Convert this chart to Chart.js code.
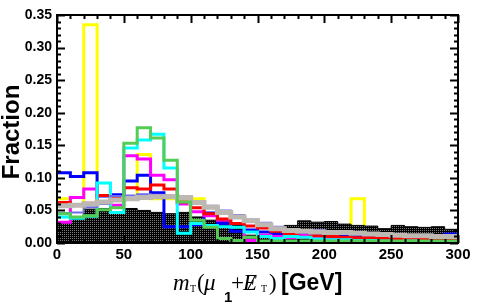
<!DOCTYPE html>
<html>
<head>
<meta charset="utf-8">
<script src="https://cdn.jsdelivr.net/npm/chart.js@4.4.0/dist/chart.umd.min.js"></script>
<style>
  html, body { margin: 0; padding: 0; background: #fff; }
  #wrap { width: 477px; height: 307px; position: relative; }
</style>
</head>
<body>
<div id="wrap"><canvas id="chart"></canvas></div>
<script>
// bin edges in GeV (30 bins of 10 GeV)
const binEdges = [0, 10, 20, 30, 40, 50, 60, 70, 80, 90, 100, 110, 120, 130, 140, 150,
  160, 170, 180, 190, 200, 210, 220, 230, 240, 250, 260, 270, 280, 290, 300];

const xTickLabels = [0, 50, 100, 150, 200, 250, 300];
const yTickLabels = ["0.00", "0.05", "0.10", "0.15", "0.20", "0.25", "0.30", "0.35"];

// fraction per bin
const blackFilled = [0.032, 0.037, 0.052, 0.053, 0.046, 0.053, 0.050, 0.047, 0.045, 0.047,
  0.040, 0.035, 0.035, 0.030, 0.012, 0.013, 0.022, 0.027, 0.034, 0.032,
  0.033, 0.029, 0.027, 0.026, 0.022, 0.027, 0.025, 0.024, 0.025, 0.021];
const yellowLine = [0.068, 0, 0.335, 0, 0, 0.068, 0.136, 0.068, 0.068, 0.068,
  0.068, 0, 0, 0, 0, 0, 0, 0, 0, 0,
  0, 0, 0.068, 0, 0, 0, 0, 0, 0, 0];
const blueLine = [0.108, 0.102, 0.108, 0.072, 0.074, 0.095, 0.104, 0.077, 0.025, 0.025,
  0.028, 0.046, 0.030, 0.018, 0.020, 0.017, 0.013, 0.015, 0.013, 0.012,
  0.010, 0.010, 0.010, 0.008, 0.008, 0.008, 0.007, 0.007, 0.008, 0.014];
const magentaLine = [0.032, 0.070, 0.083, 0.062, 0.058, 0.134, 0.129, 0.104, 0.097, 0.060,
  0.048, 0.042, 0.035, 0.030, 0.004, 0.012, 0.010, 0.008, 0.012, 0.008,
  0.008, 0.006, 0.005, 0.005, 0.006, 0.011, 0.005, 0.004, 0.004, 0.004];
const redLine = [0.062, 0.058, 0.061, 0.073, 0.071, 0.085, 0.083, 0.089, 0.083, 0.063,
  0.054, 0.045, 0.037, 0.030, 0.026, 0.023, 0.018, 0.014, 0.009, 0.011,
  0.010, 0.009, 0.008, 0.008, 0.007, 0.007, 0.006, 0.006, 0.006, 0.005];
const cyanLine = [0.040, 0.038, 0.041, 0.092, 0.047, 0.146, 0.158, 0.167, 0.115, 0.015,
  0.030, 0.027, 0.025, 0.024, 0.017, 0.010, 0.007, 0.010, 0.009, 0.006,
  0.005, 0.005, 0.004, 0.004, 0.003, 0.001, 0.003, 0.002, 0.002, 0.002];
const periwinkleLine = [0.046, 0.047, 0.055, 0.060, 0.072, 0.073, 0.075, 0.074, 0.073, 0.072,
  0.064, 0.057, 0.050, 0.043, 0.036, 0.031, 0.025, 0.021, 0.020, 0.020,
  0.018, 0.016, 0.015, 0.015, 0.013, 0.013, 0.012, 0.011, 0.011, 0.012];
const grayLine = [0.057, 0.058, 0.060, 0.063, 0.066, 0.068, 0.070, 0.071, 0.071, 0.070,
  0.062, 0.055, 0.047, 0.040, 0.034, 0.028, 0.022, 0.019, 0.018, 0.017,
  0.016, 0.016, 0.015, 0.014, 0.013, 0.012, 0.011, 0.011, 0.010, 0.010];
const greenLine = [0.045, 0.040, 0.042, 0.051, 0.054, 0.153, 0.177, 0.161, 0.127, 0.063,
  0.035, 0.024, 0.007, 0.004, 0.009, 0.003, 0.003, 0.003, 0.003, 0.003,
  0.003, 0.003, 0.003, 0.003, 0.003, 0.003, 0.003, 0.003, 0.003, 0.003];

// histogram outline: one point at each left edge, plus the last right edge
function toSteps(values) {
  const pts = values.map((v, i) => ({ x: binEdges[i], y: v }));
  pts.push({ x: binEdges[values.length], y: values[values.length - 1] });
  return pts;
}

function dotPattern() {
  const c = document.createElement("canvas");
  c.width = 2;
  c.height = 2;
  const g = c.getContext("2d");
  g.fillStyle = "#000";
  g.fillRect(0, 0, 2, 2);
  g.fillStyle = "#7a7a7a";
  g.fillRect(0, 0, 1, 1);
  return g.createPattern(c, "repeat");
}

function line(values, color, width) {
  return {
    data: toSteps(values),
    borderColor: color,
    borderWidth: width,
    stepped: "before",
    pointRadius: 0,
    fill: false,
  };
}

const framePlugin = {
  id: "frame",
  afterDatasetsDraw(chart) {
    const { ctx, chartArea: a, scales: { x, y } } = chart;
    ctx.save();
    ctx.strokeStyle = "#000";
    ctx.lineWidth = 2;
    ctx.strokeRect(a.left, a.top, a.right - a.left, a.bottom - a.top);
    ctx.beginPath();
    for (let v = 0; v <= 300; v += 10) {
      const px = Math.round(x.getPixelForValue(v)) + 0.5;
      const len = v % 50 === 0 ? 8 : 4;
      ctx.moveTo(px, a.bottom);
      ctx.lineTo(px, a.bottom - len);
      ctx.moveTo(px, a.top);
      ctx.lineTo(px, a.top + len);
    }
    for (let i = 0; i <= 35; i++) {
      const py = Math.round(y.getPixelForValue(i / 100)) + 0.5;
      const len = i % 5 === 0 ? 8 : 4;
      ctx.moveTo(a.left, py);
      ctx.lineTo(a.left + len, py);
      ctx.moveTo(a.right, py);
      ctx.lineTo(a.right - len, py);
    }
    ctx.stroke();
    ctx.restore();
  },
  afterDraw(chart) {
    const ctx = chart.ctx;
    ctx.save();
    ctx.fillStyle = "#000";
    ctx.textBaseline = "alphabetic";
    ctx.textAlign = "left";

    // y title
    ctx.save();
    ctx.translate(19, 132);
    ctx.rotate(-Math.PI / 2);
    ctx.textAlign = "center";
    ctx.font = "bold 24px 'Liberation Sans', Arial, sans-serif";
    ctx.fillText("Fraction", 0, 0);
    ctx.restore();

    // x title: m_T(mu_1 + E-slash_T) [GeV]
    const serif = "'Liberation Serif', 'Times New Roman', serif";
    const sans = "'Liberation Sans', Arial, sans-serif";
    ctx.font = "italic 23px " + serif;
    ctx.fillText("m", 173, 290);
    ctx.font = "10px " + serif;
    ctx.fillText("T", 190, 292);
    ctx.font = "23px " + serif;
    ctx.fillText("(", 197, 290);
    ctx.font = "italic 23px " + serif;
    ctx.fillText("\u03bc", 204, 290);
    ctx.font = "bold 15px " + sans;
    ctx.fillText("1", 224, 302);
    ctx.font = "23px " + serif;
    ctx.fillText("+", 231, 290);
    ctx.font = "italic 23px " + serif;
    ctx.fillText("E", 243, 290);
    ctx.fillText("/", 248, 290);
    ctx.font = "10px " + serif;
    ctx.fillText("T", 261, 292);
    ctx.font = "23px " + serif;
    ctx.fillText(")", 269, 290);
    ctx.font = "bold 23px " + sans;
    ctx.fillText("[GeV]", 281, 290);
    ctx.restore();
  },
};

const ctx = document.getElementById("chart").getContext("2d");

const blackSet = {
  data: toSteps(blackFilled),
  borderColor: "#000",
  borderWidth: 1,
  backgroundColor: dotPattern(),
  stepped: "before",
  pointRadius: 0,
  fill: "origin",
};

// first dataset is drawn on top
new Chart(ctx, {
  type: "line",
  data: {
    datasets: [
      line(greenLine, "#55cc55", 3),
      line(grayLine, "#bdb8b2", 5),
      line(periwinkleLine, "#6b6bf0", 2),
      line(cyanLine, "#00ffff", 3),
      line(redLine, "#ff0000", 3),
      line(magentaLine, "#ff00ff", 3),
      line(blueLine, "#0000ff", 3),
      blackSet,
      line(yellowLine, "#ffff00", 3),
    ],
  },
  options: {
    responsive: true,
    maintainAspectRatio: false,
    animation: false,
    layout: { padding: { top: 15, right: 19, left: 0, bottom: 0 } },
    plugins: { legend: { display: false }, tooltip: { enabled: false } },
    elements: { line: { tension: 0 } },
    scales: {
      x: {
        type: "linear",
        min: 0,
        max: 300,
        afterFit: (s) => { s.height = 64; },
        afterBuildTicks: (s) => { s.ticks = xTickLabels.map((v) => ({ value: v })); },
        ticks: {
          color: "#000",
          padding: 3,
          maxRotation: 0,
          font: { family: "'Liberation Sans', Arial, sans-serif", weight: "bold", size: 15 },
        },
        grid: { display: false, drawTicks: false },
        border: { display: false },
      },
      y: {
        min: 0,
        max: 0.35,
        afterFit: (s) => { s.width = 57; },
        afterBuildTicks: (s) => { s.ticks = yTickLabels.map((t) => ({ value: parseFloat(t) })); },
        ticks: {
          color: "#000",
          padding: 5,
          callback: (v) => yTickLabels.find((t) => Math.abs(parseFloat(t) - v) < 1e-9) || "",
          font: { family: "'Liberation Sans', Arial, sans-serif", weight: "bold", size: 14 },
        },
        grid: { display: false, drawTicks: false },
        border: { display: false },
      },
    },
  },
  plugins: [framePlugin],
});
</script>
</body>
</html>
